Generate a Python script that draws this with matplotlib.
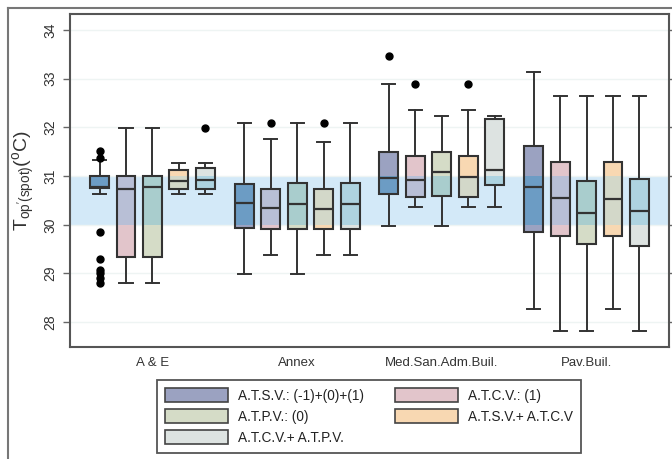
import matplotlib
matplotlib.use("Agg")
import matplotlib.pyplot as plt
from matplotlib.patches import PathPatch, Patch
from matplotlib.lines import Line2D

plt.rcParams['font.family'] = ['Liberation Sans', 'DejaVu Sans']
plt.rcParams['mathtext.fontset'] = 'custom'
plt.rcParams['mathtext.rm'] = 'Liberation Sans'
plt.rcParams['mathtext.it'] = 'Liberation Sans'

# ---------------- data ----------------
buildings = ["A & E", "Annex", "Med.San.Adm.Buil.", "Pav.Buil."]
series = ["A.T.S.V.: (-1)+(0)+(1)", "A.T.C.V.: (1)", "A.T.P.V.: (0)",
          "A.T.S.V.+ A.T.C.V", "A.T.C.V.+ A.T.P.V."]

# per series: values for the 4 buildings
whislo = {
    "A.T.S.V.: (-1)+(0)+(1)": [30.63, 28.99, 29.97, 28.27],
    "A.T.C.V.: (1)":          [28.80, 29.38, 30.36, 27.82],
    "A.T.P.V.: (0)":          [28.80, 28.99, 29.97, 27.82],
    "A.T.S.V.+ A.T.C.V":      [30.63, 29.38, 30.36, 28.27],
    "A.T.C.V.+ A.T.P.V.":     [30.63, 29.38, 30.36, 27.82],
}
q1 = {
    "A.T.S.V.: (-1)+(0)+(1)": [30.75, 29.94, 30.63, 29.85],
    "A.T.C.V.: (1)":          [29.33, 29.92, 30.58, 29.76],
    "A.T.P.V.: (0)":          [29.33, 29.92, 30.59, 29.60],
    "A.T.S.V.+ A.T.C.V":      [30.74, 29.92, 30.58, 29.76],
    "A.T.C.V.+ A.T.P.V.":     [30.74, 29.92, 30.81, 29.57],
}
med = {
    "A.T.S.V.: (-1)+(0)+(1)": [30.77, 30.45, 30.97, 30.78],
    "A.T.C.V.: (1)":          [30.74, 30.35, 30.92, 30.56],
    "A.T.P.V.: (0)":          [30.77, 30.43, 31.09, 30.25],
    "A.T.S.V.+ A.T.C.V":      [30.89, 30.33, 30.99, 30.54],
    "A.T.C.V.+ A.T.P.V.":     [30.92, 30.43, 31.12, 30.29],
}
q3 = {
    "A.T.S.V.: (-1)+(0)+(1)": [31.00, 30.83, 31.50, 31.62],
    "A.T.C.V.: (1)":          [31.00, 30.73, 31.41, 31.28],
    "A.T.P.V.: (0)":          [31.00, 30.85, 31.49, 30.91],
    "A.T.S.V.+ A.T.C.V":      [31.12, 30.73, 31.41, 31.28],
    "A.T.C.V.+ A.T.P.V.":     [31.17, 30.85, 32.17, 30.94],
}
whishi = {
    "A.T.S.V.: (-1)+(0)+(1)": [31.33, 32.10, 32.89, 33.13],
    "A.T.C.V.: (1)":          [31.98, 31.76, 32.36, 32.65],
    "A.T.P.V.: (0)":          [31.98, 32.10, 32.23, 32.65],
    "A.T.S.V.+ A.T.C.V":      [31.26, 31.70, 32.36, 32.65],
    "A.T.C.V.+ A.T.P.V.":     [31.26, 32.10, 32.23, 32.65],
}
outliers = {
    "A.T.S.V.: (-1)+(0)+(1)": [[31.38, 31.52, 29.85, 29.29, 29.08, 29.0, 28.9, 28.8], [], [33.47], []],
    "A.T.C.V.: (1)":          [[], [32.09], [32.89], []],
    "A.T.P.V.: (0)":          [[], [], [], []],
    "A.T.S.V.+ A.T.C.V":      [[], [32.09], [32.89], []],
    "A.T.C.V.+ A.T.P.V.":     [[31.98], [], [], []],
}
comfort_low, comfort_high = 30.0, 31.0
yticks = [28, 29, 30, 31, 32, 33, 34]

# ---------------- style ----------------
box_colors = ["#9BA2C1", "#E2C5CB", "#D5DCC7", "#F8D8B2", "#DDE3E1"]
band_box_colors = ["#6C9CC4", "#B8BFD6", "#A9CDCD", "#D3D8C9", "#AED3E0"]
band_color = "#D3E9F8"
edge = "#333333"

fig = plt.figure(figsize=(6.72, 4.59), dpi=100)
ax = fig.add_axes([70/672, 1-347/459, (669-70)/672, (347-14)/459])

band = ax.axhspan(comfort_low, comfort_high, color=band_color, zorder=0.5, lw=0)

offset = 0.183
for j, s in enumerate(series):
    stats = []
    positions = []
    for i in range(len(buildings)):
        stats.append(dict(whislo=whislo[s][i], q1=q1[s][i], med=med[s][i],
                          q3=q3[s][i], whishi=whishi[s][i], fliers=outliers[s][i]))
        positions.append(i + (j - 2) * offset)
    res = ax.bxp(stats, positions=positions, widths=0.131, capwidths=0.09,
                 patch_artist=True, showfliers=True,
                 boxprops=dict(facecolor=box_colors[j], edgecolor='none', lw=0),
                 whiskerprops=dict(color=edge, lw=1.4),
                 capprops=dict(color=edge, lw=1.4),
                 medianprops=dict(color=edge, lw=1.6),
                 flierprops=dict(marker='o', markerfacecolor='black',
                                 markeredgecolor='black', markersize=5))
    for b in res['boxes']:
        b.set_zorder(2)
        ov = PathPatch(b.get_path(), facecolor=band_box_colors[j], edgecolor='none',
                       transform=b.get_transform(), zorder=2.1)
        ax.add_patch(ov)
        ov.set_clip_path(band)
        ed = PathPatch(b.get_path(), fill=False, edgecolor=edge, lw=1.5,
                       transform=b.get_transform(), zorder=2.2)
        ax.add_patch(ed)
    for m in res['medians']:
        m.set_zorder(2.3)

ax.set_xlim(-0.57, 3.57)
ax.set_ylim(27.49, 34.33)
ax.set_xticks(range(len(buildings)))
ax.set_xticklabels(buildings, fontsize=9.5, color='#333333')
ax.tick_params(axis='x', length=0, pad=7)
ax.set_yticks(yticks)
ax.set_yticklabels([str(t) for t in yticks], rotation=90, va='center',
                   fontsize=10, color='#333333')
ax.tick_params(axis='y', length=5, width=1, color='#666666', right=True, pad=4)
ax.yaxis.grid(True, color='#EEF4F3', lw=1)
ax.set_axisbelow(True)
for sp in ax.spines.values():
    sp.set_color('#555555')
    sp.set_linewidth(1.5)

ax.set_ylabel(r"$\mathregular{T_{op^{\prime}(spot)}(^{o}C)}$", fontsize=14,
              color='#333333', labelpad=5)

handles_order = [0, 2, 4, 1, 3]
handles = [Patch(facecolor=box_colors[k], edgecolor='#444444', lw=1.2, label=series[k])
           for k in handles_order]
leg = fig.legend(handles=handles, loc='center', bbox_to_anchor=(369/672, 1-416.5/459),
                 ncol=2, fontsize=9.8, handlelength=4.6, handleheight=1.15,
                 handletextpad=0.75, columnspacing=2.3, labelspacing=0.5,
                 fancybox=False, framealpha=1, edgecolor='#555555', borderpad=0.6)
leg.get_frame().set_linewidth(1.3)
for t in leg.get_texts():
    t.set_color('#222222')

# outer frame
fig.add_artist(Line2D([8/672, 8/672], [0, 1-8/459], transform=fig.transFigure,
                      color='#777777', lw=1.5))
fig.add_artist(Line2D([8/672, 1], [1-8/459, 1-8/459], transform=fig.transFigure,
                      color='#777777', lw=1.5))

fig.savefig("out.png", dpi=100)
